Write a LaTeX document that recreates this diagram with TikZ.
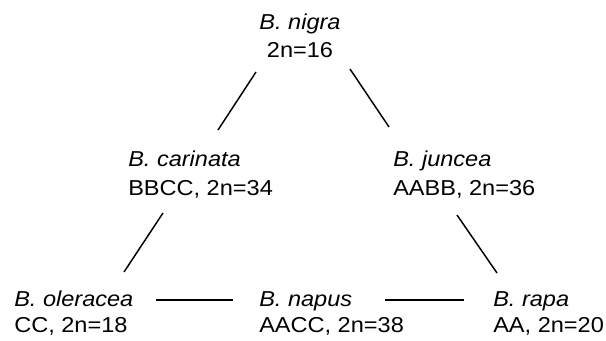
\documentclass[tikz,border=0pt]{standalone}
\usepackage{fontspec}
\setmainfont{Liberation Sans}
\usepackage{graphicx}
\newcommand{\sxl}[1]{\scalebox{1.09}[1]{#1}}
\begin{document}
\begin{tikzpicture}[x=0.75pt,y=-0.75pt,
  lbl/.style={inner sep=0pt, font=\fontsize{16.2}{19}\selectfont},
  lw/.style={lbl, anchor=base west},
  lc/.style={lbl, anchor=base},
  conn/.style={draw=black, line width=1.1pt}]
\useasboundingbox (0,0) rectangle (606,341);
% top
\node[lc] (nig) at (300,30) {\sxl{\textit{B. nigra}}};
\node[lc] (nigg) at (300,58) {\sxl{2n=16}};
% middle
\node[lw] (car) at (128,167) {\sxl{\textit{B. carinata}}};
\node[lw] (carg) at (128,196) {\sxl{BBCC, 2n=34}};
\node[lw] (jun) at (393,167) {\sxl{\textit{B. juncea}}};
\node[lw] (jung) at (393,196) {\sxl{AABB, 2n=36}};
% bottom
\node[lw] (ole) at (14,307) {\sxl{\textit{B. oleracea}}};
\node[lw] (oleg) at (14,333) {\sxl{CC, 2n=18}};
\node[lw] (nap) at (259,307) {\sxl{\textit{B. napus}}};
\node[lw] (napg) at (259,333) {\sxl{AACC, 2n=38}};
\node[lw] (rap) at (493,307) {\sxl{\textit{B. rapa}}};
\node[lw] (rapg) at (493,333) {\sxl{AA, 2n=20}};
% connector ends
\coordinate (nigL) at (256,72);
\coordinate (carT) at (218,130);
\coordinate (nigR) at (350,69);
\coordinate (junT) at (389,127);
\coordinate (carB) at (163,213);
\coordinate (oleT) at (124,272);
\coordinate (junB) at (457,215);
\coordinate (rapT) at (497,273);
\coordinate (oleR) at (156,300);
\coordinate (napL) at (233,300);
\coordinate (napR) at (385,300);
\coordinate (rapL) at (464,300);
\draw[conn] (nigL) -- (carT);
\draw[conn] (nigR) -- (junT);
\draw[conn] (carB) -- (oleT);
\draw[conn] (junB) -- (rapT);
\draw[conn] (oleR) -- (napL);
\draw[conn] (napR) -- (rapL);
\end{tikzpicture}
\end{document}
